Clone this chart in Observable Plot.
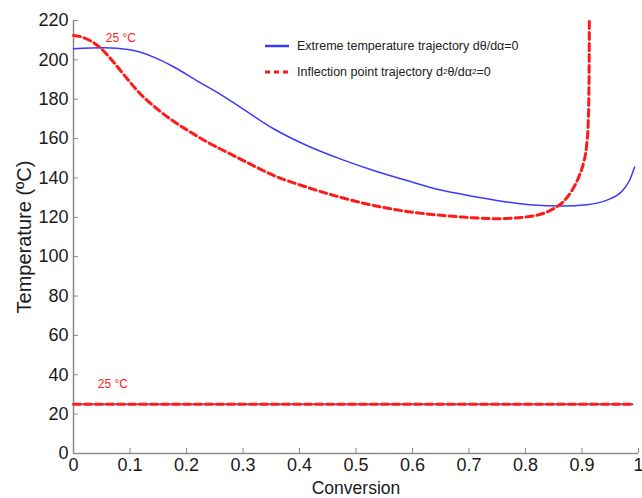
<!DOCTYPE html>
<html>
<head>
<meta charset="utf-8">
<script src="https://cdn.jsdelivr.net/npm/d3@7"></script>
<script src="https://cdn.jsdelivr.net/npm/@observablehq/plot@0.6"></script>
<style>
  html, body { margin: 0; padding: 0; background: #fff; }
  #chart { position: relative; width: 642px; height: 498px; overflow: hidden; font-family: "Liberation Sans", Arial, sans-serif; }
  #chart svg { overflow: visible; }
  .legend { position: absolute; left: 265px; top: 33px; font-size: 12.5px; color: #222; line-height: 26px; }
  .legend .row { display: flex; align-items: center; white-space: nowrap; }
  .legend svg { margin-right: 8px; }
  .legend sup { font-size: 8px; vertical-align: 5px; line-height: 0; }
</style>
</head>
<body>
<div id="chart"></div>
<script>
// Extreme temperature trajectory (dθ/dα = 0), starting temperature 25 °C
const extremeX = [0, 0.054, 0.1, 0.142, 0.177, 0.218, 0.26, 0.295, 0.354, 0.413, 0.472, 0.531, 0.59, 0.648, 0.69, 0.749, 0.807, 0.866, 0.908, 0.943, 0.972, 0.984, 0.993];
const extremeT = [205.6, 206.1, 205.1, 201.4, 196.5, 189.5, 182.5, 176, 165, 156.5, 149.7, 143.8, 138.7, 134, 131.6, 128.6, 126.4, 125.7, 126.4, 128.6, 133.6, 138.7, 145.5];

// Inflection point trajectory (d²θ/dα² = 0)
const inflectionX = [0, 0.015, 0.03, 0.048, 0.071, 0.095, 0.118, 0.142, 0.171, 0.207, 0.242, 0.277, 0.313, 0.354, 0.413, 0.472, 0.531, 0.59, 0.63, 0.69, 0.749, 0.807, 0.849, 0.866, 0.884, 0.895, 0.903, 0.908, 0.911, 0.9125, 0.913];
const inflectionT = [212.4, 211.6, 209.7, 206, 198.8, 190.4, 182.8, 176.5, 170, 163.3, 157.4, 152.3, 147, 141.3, 135.3, 130.2, 126, 123, 121.6, 120.1, 119.3, 120.4, 124.3, 127.7, 134.5, 141, 148, 156, 168, 190, 220];

// Feed temperature line (both trajectories coincide at 25 °C)
const feedX = [0, 0.99];
const feedT = [25, 25];

// Temperature annotations
const noteX = [0.057, 0.043];
const noteT = [211, 35];
const noteText = ["25 °C", "25 °C"];

const xTicks = [0, 0.1, 0.2, 0.3, 0.4, 0.5, 0.6, 0.7, 0.8, 0.9, 1];
const yTicks = [0, 20, 40, 60, 80, 100, 120, 140, 160, 180, 200, 220];

const zip = (xs, ys) => xs.map((x, i) => ({x, y: ys[i]}));
const extreme = zip(extremeX, extremeT);
const inflection = zip(inflectionX, inflectionT);
const feed = zip(feedX, feedT);
const notes = noteX.map((x, i) => ({x, y: noteT[i], text: noteText[i]}));

const blue = "#3a3aff";
const red = "#ff1a1a";
const axisGray = "#8c8c8c";
const ink = "#1a1a1a";

const plot = Plot.plot({
  width: 642,
  height: 498,
  marginLeft: 73,
  marginRight: 4,
  marginTop: 20,
  marginBottom: 45,
  style: {fontFamily: "Liberation Sans, Arial, sans-serif", fontSize: "18px", color: ink, background: "white"},
  x: {domain: [0, 1]},
  y: {domain: [0, 220]},
  marks: [
    // tick labels outside the frame
    Plot.axisX({ticks: xTicks, tickFormat: d => String(d), tickSize: 0, tickPadding: 5, fill: ink, fontSize: 18, label: null}),
    Plot.axisY({ticks: yTicks, tickSize: 0, tickPadding: 5, fill: ink, fontSize: 18, label: null}),
    // short tick marks pointing into the frame from the axis baselines
    Plot.ruleX(xTicks, {x: d => d, y1: 0, y2: 0, insetTop: -5, stroke: axisGray}),
    Plot.ruleY(yTicks, {y: d => d, x1: 0, x2: 0, insetRight: -5, stroke: axisGray}),
    Plot.ruleX([0], {stroke: axisGray, strokeWidth: 1.5}),
    Plot.ruleY([0], {stroke: axisGray, strokeWidth: 1.5}),
    Plot.line(feed, {x: "x", y: "y", stroke: blue, strokeWidth: 1.5}),
    Plot.line(feed, {x: "x", y: "y", stroke: red, strokeWidth: 3, strokeDasharray: "7,4"}),
    Plot.line(extreme, {x: "x", y: "y", stroke: blue, strokeWidth: 1.5, curve: "monotone-x"}),
    Plot.line(inflection, {x: "x", y: "y", stroke: red, strokeWidth: 3, strokeDasharray: "7,4", curve: "monotone-x"}),
    Plot.text(notes, {x: "x", y: "y", text: "text", fill: red, fontSize: 12, textAnchor: "start"}),
    Plot.text(["Conversion"], {frameAnchor: "bottom", dy: 40, fontSize: 17.5, fill: ink}),
    Plot.text(["Temperature (ºC)"], {frameAnchor: "left", textAnchor: "middle", dx: -49, rotate: -90, fontSize: 20, fill: ink})
  ]
});

const chart = document.getElementById("chart");
chart.appendChild(plot);

// Legend inside the plot area
const legend = document.createElement("div");
legend.className = "legend";
legend.innerHTML = `
  <div class="row"><svg width="24" height="6"><line x1="0" x2="24" y1="3" y2="3" stroke="${blue}" stroke-width="2.5"/></svg>Extreme temperature trajectory dθ/dα=0</div>
  <div class="row"><svg width="24" height="6"><line x1="0" x2="24" y1="3" y2="3" stroke="${red}" stroke-width="3" stroke-dasharray="5,4"/></svg>Inflection point trajectory d<sup>2</sup>θ/dα<sup>2</sup>=0</div>`;
chart.appendChild(legend);
</script>
</body>
</html>
